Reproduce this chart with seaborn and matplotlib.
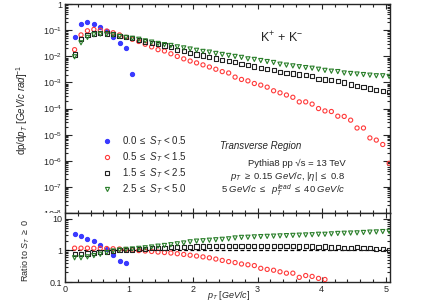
import numpy as np
import pandas as pd
import seaborn as sns
import matplotlib
matplotlib.use("Agg")
import matplotlib.pyplot as plt
from matplotlib.lines import Line2D
from matplotlib.patches import Rectangle
from matplotlib.ticker import LogLocator, FixedLocator, MultipleLocator, FuncFormatter, NullFormatter

# pT bin centres (GeV/c)
pt = [0.15, 0.25, 0.35, 0.45, 0.55, 0.65, 0.75, 0.85, 0.95, 1.05,
      1.15, 1.25, 1.35, 1.45, 1.55, 1.65, 1.75, 1.85, 1.95, 2.05,
      2.15, 2.25, 2.35, 2.45, 2.55, 2.65, 2.75, 2.85, 2.95, 3.05,
      3.15, 3.25, 3.35, 3.45, 3.55, 3.65, 3.75, 3.85, 3.95, 4.05,
      4.15, 4.25, 4.35, 4.45, 4.55, 4.65, 4.75, 4.85, 4.95, 5.05]

# spectra dp/dpT per S_T class
spec_st0 = [0.053, 0.17, 0.2, 0.18, 0.135, 0.093, 0.056, 0.031, 0.021, 0.0021]
spec_st1 = [0.018, 0.066, 0.095, 0.107, 0.1, 0.093, 0.08, 0.066, 0.053, 0.045,
            0.037, 0.029, 0.023, 0.018, 0.016, 0.0125, 0.0099, 0.008, 0.0066, 0.0056,
            0.0047, 0.0039, 0.0032, 0.0026, 0.0023, 0.0016, 0.0013, 0.00115, 0.00091, 0.00079,
            0.00066, 0.00048, 0.0004, 0.00033, 0.00027, 0.00018, 0.00018, 0.000148, 0.0001, 8.1e-5,
            7.7e-5, 5.1e-5, 5e-5, 3.6e-5, 1.8e-5, 1.8e-5, 7.5e-6, 6.2e-6, 4.2e-6, 8e-7]
spec_st2 = [0.0118, 0.045, 0.067, 0.075, 0.08, 0.075, 0.069, 0.061, 0.053, 0.049,
            0.042, 0.037, 0.033, 0.029, 0.026, 0.022, 0.018, 0.016, 0.0136, 0.0118,
            0.0108, 0.0096, 0.0083, 0.0074, 0.0066, 0.0059, 0.0052, 0.0046, 0.0041, 0.0037,
            0.0033, 0.0029, 0.0026, 0.0023, 0.0022, 0.002, 0.0019, 0.0017, 0.0014, 0.0013,
            0.0012, 0.0011, 0.001, 0.00083, 0.00074, 0.00068, 0.00059, 0.0005, 0.00047, 0.00042]
spec_st3 = [0.0096, 0.033, 0.053, 0.067, 0.071, 0.07, 0.065, 0.058, 0.053, 0.049,
            0.045, 0.039, 0.035, 0.031, 0.028, 0.026, 0.023, 0.021, 0.019, 0.017,
            0.0154, 0.0145, 0.0129, 0.0118, 0.0108, 0.0099, 0.0091, 0.008, 0.0076, 0.0069,
            0.0063, 0.0058, 0.005, 0.0046, 0.0043, 0.004, 0.0037, 0.0035, 0.0032, 0.0029,
            0.0027, 0.0026, 0.0023, 0.0022, 0.0021, 0.002, 0.0019, 0.0018, 0.0018, 0.0017]

# ratios to S_T >= 0
ratio_st0 = [3.2, 2.8, 2.3, 1.9, 1.5, 1.07, 0.72, 0.47, 0.40]
ratio_st1 = [1.17, 1.17, 1.17, 1.16, 1.15, 1.14, 1.12, 1.1, 1.06, 1.02,
             0.98, 0.95, 0.92, 0.88, 0.85, 0.82, 0.78, 0.74, 0.7, 0.66,
             0.62, 0.58, 0.53, 0.48, 0.44, 0.41, 0.37, 0.35, 0.33, 0.27,
             0.25, 0.235, 0.21, 0.19, 0.19, 0.14, 0.16, 0.15, 0.13, 0.12]
ratio_st2 = [0.76, 0.77, 0.79, 0.82, 0.86, 0.91, 0.96, 1.0, 1.03, 1.06,
             1.09, 1.12, 1.15, 1.18, 1.21, 1.24, 1.26, 1.28, 1.3, 1.31,
             1.32, 1.33, 1.33, 1.34, 1.34, 1.35, 1.34, 1.35, 1.34, 1.35,
             1.33, 1.34, 1.35, 1.33, 1.34, 1.32, 1.33, 1.32, 1.3, 1.31,
             1.22, 1.25, 1.2, 1.18, 1.24, 1.2, 1.16, 1.12, 1.08, 1.05]
ratio_st3 = [0.58, 0.58, 0.62, 0.68, 0.75, 0.85, 0.95, 1.02, 1.07, 1.1,
             1.15, 1.2, 1.27, 1.35, 1.42, 1.5, 1.6, 1.7, 1.85, 1.95,
             2.0, 2.08, 2.15, 2.22, 2.3, 2.45, 2.55, 2.58, 2.65, 2.7,
             2.75, 2.8, 2.85, 2.9, 2.95, 3.0, 3.05, 3.1, 3.2, 3.2,
             3.3, 3.4, 3.45, 3.5, 3.55, 3.65, 3.75, 3.8, 3.9, 3.95]

labels = [r"0.0 $\leq$ $S_{T}$ < 0.5", r"0.5 $\leq$ $S_{T}$ < 1.5",
          r"1.5 $\leq$ $S_{T}$ < 2.5", r"2.5 $\leq$ $S_{T}$ < 5.0"]
colors = ["#3a3aff", "#ff3a3a", "#222222", "#2a7f2a"]
markers = ["o", "o", "s", "v"]
filled = [True, False, False, False]

sns.set_style("ticks")
plt.rcParams["font.family"] = ["Liberation Sans", "DejaVu Sans"]
plt.rcParams["mathtext.fontset"] = "custom"
plt.rcParams["mathtext.rm"] = "Liberation Sans"
plt.rcParams["mathtext.it"] = "Liberation Sans:italic"
plt.rcParams["mathtext.bf"] = "Liberation Sans:bold"

fig = plt.figure(figsize=(4.36, 3.05), dpi=100)
ax1 = fig.add_axes([0.149, 0.3016, 0.745, 0.685])
ax2 = fig.add_axes([0.149, 0.0754, 0.745, 0.2262])
ax2.set_zorder(2)

spectra = [spec_st0, spec_st1, spec_st2, spec_st3]
ratios = [ratio_st0, ratio_st1, ratio_st2, ratio_st3]

for i in range(4):
    sp = pd.DataFrame({"pt": pt[:len(spectra[i])], "y": spectra[i]})
    rt = pd.DataFrame({"pt": pt[:len(ratios[i])], "y": ratios[i]})
    fc = colors[i] if filled[i] else "none"
    for ax, d in [(ax1, sp), (ax2, rt)]:
        sns.scatterplot(data=d, x="pt", y="y", ax=ax, marker=markers[i], s=9,
                        color=colors[i], facecolor=fc, edgecolor=colors[i],
                        linewidth=0.8, clip_on=True, legend=False, zorder=3)

ax2.axhline(1.0, color="black", lw=0.9, ls=(0, (3, 2)), zorder=2)

for ax in (ax1, ax2):
    ax.set_yscale("log")
    ax.set_xlim(0, 5.06)
    ax.xaxis.set_major_locator(MultipleLocator(1))
    ax.xaxis.set_minor_locator(MultipleLocator(0.2))
    ax.tick_params(which="both", direction="in", top=True, right=True,
                   labelsize=6.5, width=0.8, pad=2)
    ax.tick_params(axis="x", which="major", length=3.5)
    ax.tick_params(axis="x", which="minor", length=2)
    ax.tick_params(axis="y", which="major", length=5)
    ax.tick_params(axis="y", which="minor", length=2.5)
    for s in ax.spines.values():
        s.set_linewidth(1.0)
    ax.set_xlabel("")
    ax.set_ylabel("")

ax1.set_ylim(1e-8, 1)
ax1.yaxis.set_major_locator(LogLocator(base=10, numticks=12))
ax1.yaxis.set_minor_locator(LogLocator(base=10, subs=np.arange(2, 10), numticks=12))
ax1.yaxis.set_major_formatter(FuncFormatter(lambda v, p: "1" if abs(v - 1) < 1e-9 else r"$10^{%d}$" % round(np.log10(v))))
ax1.yaxis.set_minor_formatter(NullFormatter())
ax1.tick_params(axis="x", labelbottom=False)

ax2.set_ylim(0.1, 15)
ax2.yaxis.set_major_locator(FixedLocator([0.1, 1, 10]))
ax2.yaxis.set_minor_locator(LogLocator(base=10, subs=np.arange(2, 10), numticks=12))
ax2.yaxis.set_major_formatter(FuncFormatter(lambda v, p: {0.1: "0.1", 1: "1", 10: "10"}.get(round(v, 1), "")))
ax2.yaxis.set_minor_formatter(NullFormatter())

# white mask hiding lower half of the 10^-8 label, like the pad overlap
fig.patches.append(Rectangle((0, 0), 0.149, 0.3016, transform=fig.transFigure,
                             facecolor="white", edgecolor="none", zorder=1))

fig.text(0.05, 0.64, r"dp/d$p_{T}$ [$GeV/c$ $rad$]$^{-1}$", rotation=90,
         ha="center", va="center", fontsize=7)
fig.text(0.058, 0.18, r"Ratio to $S_{T}$ $\geq$ 0", rotation=90,
         ha="center", va="center", fontsize=6.5)
fig.text(0.525, 0.03, r"$p_{T}$ [$GeV/c$]", ha="center", va="center", fontsize=6.5)

handles = [Line2D([], [], ls="none", marker=markers[i], ms=3.0,
                  mfc=colors[i] if filled[i] else "none", mec=colors[i], mew=0.8)
           for i in range(4)]
ax1.legend(handles, labels, loc="upper left", bbox_to_anchor=(0.222, 0.575),
           bbox_transform=fig.transFigure, frameon=False, fontsize=7,
           handlelength=1.0, handletextpad=1.1, labelspacing=0.22, borderpad=0)

fig.text(0.645, 0.875, r"K$^{+}$ + K$^{-}$", ha="center", va="center", fontsize=9)
fig.text(0.597, 0.52, "Transverse Region", style="italic", ha="center", va="center", fontsize=7)
fig.text(0.792, 0.463, "Pythia8 pp \u221as = 13 TeV", ha="right", va="center", fontsize=6.8)
fig.text(0.792, 0.421, r"$p_{T}$ $\geq$ 0.15 $GeV/c$, |$\eta$| $\leq$ 0.8", ha="right", va="center", fontsize=6.8)
fig.text(0.792, 0.374, r"5 $GeV/c$ $\leq$  $p_{T}^{lead}$ $\leq$ 40 $GeV/c$", ha="right", va="center", fontsize=6.8)

fig.savefig("out.png", dpi=100)
